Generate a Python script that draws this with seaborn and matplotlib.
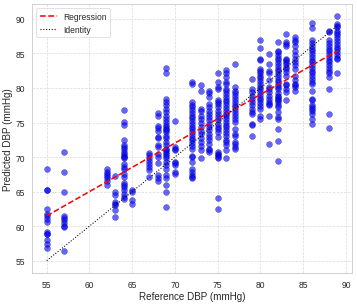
import numpy as np
import pandas as pd
import matplotlib
matplotlib.use("Agg")
import matplotlib.pyplot as plt
import seaborn as sns

# predicted DBP values, grouped by reference DBP (mmHg)
pred_55 = [68.2, 65.3, 65.3, 62.5, 61.8, 61.5, 61.1, 60.6, 59.2, 58.9, 58.8, 58.0, 57.4, 56.8]
pred_57 = [70.8, 67.8, 64.9, 61.5, 61.2, 60.9, 60.5, 60.0, 59.9, 56.4]
pred_62 = [68.2, 67.8, 67.5, 67.2, 66.9, 66.6, 65.9]
pred_63 = [67.3, 65.0, 64.5, 63.5, 63.2, 63.0, 62.3, 61.3]
pred_64 = [76.8, 75.1, 74.6, 72.4, 71.8, 71.5, 71.2, 70.8, 70.5, 70.2, 70.0, 69.8, 69.0, 68.6,
           68.3, 67.6, 67.1, 66.2, 66.0, 65.7, 65.2, 64.7, 64.2, 63.9]
pred_65 = [65.2, 65.0, 63.8, 63.2]
pred_67 = [70.6, 70.3, 69.8, 69.4, 69.0, 68.6, 68.1, 67.1]
pred_68 = [76.4, 75.9, 74.5, 74.2, 73.7, 72.9, 72.7, 71.7, 71.5, 70.5, 70.0, 69.2, 67.4, 66.9, 66.5]
pred_69 = [82.9, 82.2, 78.4, 78.0, 77.5, 77.0, 76.5, 76.0, 75.5, 75.1, 74.6, 74.3, 74.1, 73.9,
           73.6, 73.1, 72.7, 72.2, 71.7, 71.2, 71.0, 70.7, 70.5, 70.2, 69.8, 69.3, 68.8, 68.3,
           67.4, 66.9, 65.9, 65.0, 62.8]
pred_70 = [75.2, 71.5, 71.2, 71.0, 69.3, 69.2, 68.8, 67.8, 67.5]
pred_72 = [80.9, 80.6, 78.0, 77.6, 77.2, 76.8, 76.4, 76.0, 75.6, 75.2, 74.8, 74.4, 74.0, 73.6,
           73.2, 72.8, 72.4, 72.0, 71.6, 71.2, 70.2, 70.0, 69.3, 68.2, 67.9, 67.4, 67.1, 66.9]
pred_73 = [80.4, 79.6, 77.0, 76.6, 76.0, 75.5, 75.0, 74.3, 73.8, 73.3, 72.8, 72.2, 71.6, 71.0, 69.8]
pred_74 = [79.6, 79.2, 78.7, 77.7, 77.2, 76.7, 76.3, 75.8, 75.3, 74.8, 74.3, 73.9, 73.4, 72.9,
           72.4, 71.9, 71.2, 71.0, 70.8]
pred_75 = [82.1, 80.9, 80.1, 79.9, 78.2, 78.0, 77.7, 77.2, 76.7, 76.3, 75.8, 75.3, 74.8, 74.3,
           74.1, 73.6, 72.9, 70.8, 70.5, 70.3, 70.0, 69.8, 64.1, 62.5]
pred_76 = [82.6, 82.1, 81.6, 80.9, 80.6, 79.9, 79.5, 79.1, 78.7, 78.3, 77.9, 77.5, 77.1, 76.7,
           76.3, 75.9, 75.5, 75.1, 74.7, 74.3, 73.9, 73.5, 73.1, 72.4, 72.2, 71.7, 71.0, 69.8]
pred_77 = [83.4, 80.1, 79.6, 79.2, 78.8, 78.4, 78.0, 77.6, 77.2, 76.8, 76.4, 76.0, 75.5, 75.1,
           74.1, 73.4, 73.1, 72.2, 71.9, 71.5, 71.2]
pred_79 = [81.3, 79.9, 79.4, 78.9, 78.4, 78.0, 77.5, 77.0, 76.5, 76.3, 74.8, 74.6, 73.0]
pred_80 = [87.0, 85.8, 84.2, 84.0, 82.8, 82.5, 82.2, 81.8, 81.4, 81.0, 80.6, 80.2, 79.8, 79.4,
           79.0, 78.6, 78.2, 77.8, 77.4, 77.0, 76.0, 75.5]
pred_81 = [84.9, 83.5, 82.5, 82.1, 81.1, 80.1, 79.9, 79.4, 78.9, 78.4, 78.0, 77.7, 77.5, 76.0, 71.9]
pred_82 = [86.6, 85.4, 85.2, 84.8, 84.4, 84.0, 83.6, 83.2, 82.8, 82.4, 82.0, 81.6, 81.2, 80.8,
           80.4, 80.1, 79.9, 79.2, 78.9, 78.7, 78.4, 78.2, 78.0, 77.5, 77.2, 76.5, 75.8, 75.5,
           74.1, 72.3, 69.5]
pred_83 = [87.8, 86.6, 86.4, 86.1, 84.2, 84.0, 83.7, 83.5, 83.0, 82.8, 82.3, 81.8, 80.6, 80.4,
           79.9, 79.4, 78.2]
pred_84 = [87.4, 86.9, 86.6, 86.1, 85.4, 84.8, 84.2, 83.8, 83.3, 82.8, 81.8, 81.1, 80.6, 80.4,
           80.1, 79.6]
pred_86 = [89.4, 88.7, 86.9, 86.5, 86.1, 85.7, 85.3, 84.9, 84.5, 84.1, 83.7, 83.3, 82.9, 82.5,
           82.1, 81.7, 81.3, 80.9, 80.6, 79.6, 78.4, 78.2, 77.5, 77.2, 77.0, 76.7, 76.3, 75.5, 74.8]
pred_88 = [88.3, 88.1, 86.9, 86.5, 86.1, 85.7, 85.3, 84.9, 84.5, 84.1, 83.7, 83.3, 82.9, 82.5,
           82.1, 81.6, 79.8, 76.3, 74.2]
pred_89 = [90.4, 89.3, 89.0, 88.8, 88.3, 88.0, 87.6, 87.2, 86.8, 86.4, 86.0, 85.6, 85.2, 84.8,
           84.4, 84.2, 82.1]

ref_values = [55, 57, 62, 63, 64, 65, 67, 68, 69, 70, 72, 73, 74, 75, 76, 77, 79, 80, 81, 82,
              83, 84, 86, 88, 89]
pred_groups = [pred_55, pred_57, pred_62, pred_63, pred_64, pred_65, pred_67, pred_68, pred_69,
               pred_70, pred_72, pred_73, pred_74, pred_75, pred_76, pred_77, pred_79, pred_80,
               pred_81, pred_82, pred_83, pred_84, pred_86, pred_88, pred_89]

rows = []
for ref, preds in zip(ref_values, pred_groups):
    for p in preds:
        rows.append((ref, p))
df = pd.DataFrame(rows, columns=["reference", "predicted"])

sns.set_theme(style="whitegrid")
plt.rcParams["font.family"] = ["Liberation Sans", "DejaVu Sans"]

fig, ax = plt.subplots(figsize=(7.0, 5.98), dpi=51)
fig.subplots_adjust(left=0.09, right=0.986, top=0.984, bottom=0.102)

sns.scatterplot(data=df, x="reference", y="predicted", ax=ax, color="blue", alpha=0.6,
                edgecolor="navy", linewidth=0.6, s=70, zorder=2)

# regression fit and identity line
slope, intercept = np.polyfit(df["reference"], df["predicted"], 1)
xs = np.array([df["reference"].min(), df["reference"].max()])
ax.plot(xs, slope * xs + intercept, color="red", linestyle="--", linewidth=2.2,
        label="Regression", zorder=3)
ax.plot(xs, xs, color="black", linestyle=":", linewidth=1.5, label="Identity", zorder=3)

ax.set_xlabel("Reference DBP (mmHg)", fontsize=14)
ax.set_ylabel("Predicted DBP (mmHg)", fontsize=14)
ax.tick_params(labelsize=12)
ax.grid(True, linestyle="--", alpha=0.7)
ax.legend(loc="upper left", fontsize=12)

fig.savefig("out.png", dpi=51)
